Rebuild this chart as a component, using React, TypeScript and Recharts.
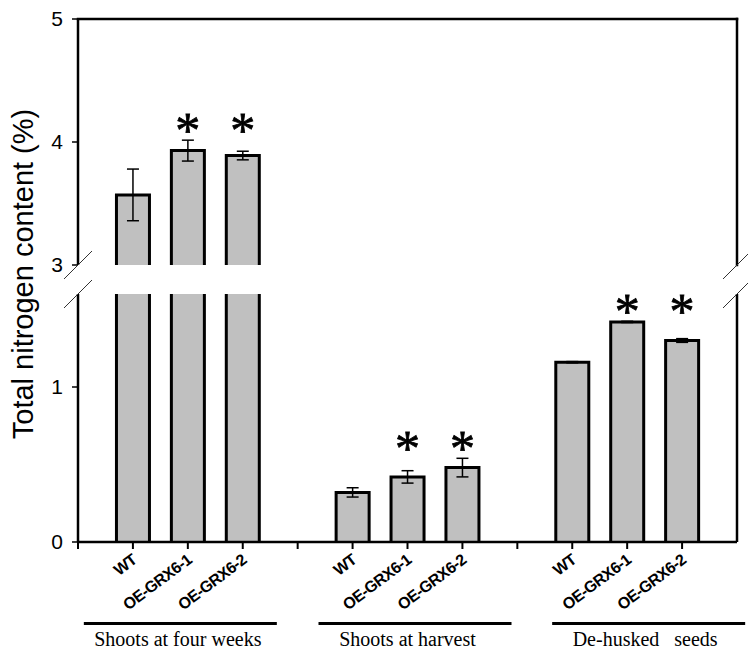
import React from "react";
import { ComposedChart, Bar, ErrorBar, Scatter, XAxis, YAxis, ReferenceLine } from "recharts";

const genotypes = ["WT", "OE-GRX6-1", "OE-GRX6-2"];
const tissues = ["Shoots at four weeks", "Shoots at harvest", "De-husked   seeds"];

// total N (%) per tissue, one array per genotype
const wtMean = [3.57, 0.32, 1.16];
const oe1Mean = [3.93, 0.42, 1.42];
const oe2Mean = [3.89, 0.48, 1.3];
const wtErr = [0.21, 0.03, 0.004];
const oe1Err = [0.085, 0.04, 0.004];
const oe2Err = [0.035, 0.06, 0.012];
const starred = [false, true, true];

const upperTicks = [3, 4, 5];
const lowerTicks = [0, 1];
const slotTicks = [0, 1, 2, 3, 4, 5, 6, 7, 8, 9, 10, 11];

const UPPER: [number, number] = [3, 5];
const LOWER: [number, number] = [0, 1.6];

const means = [wtMean, oe1Mean, oe2Mean];
const errs = [wtErr, oe1Err, oe2Err];

const rows = tissues.flatMap((_, g) =>
  genotypes.map((name, i) => ({ x: g * 4 + i + 1, name, mean: means[i][g], err: errs[i][g] }))
);
const stars = tissues.flatMap((_, g) => {
  const top = Math.max(...genotypes.map((_, i) => means[i][g] + errs[i][g]));
  return genotypes.map((_, i) => ({ x: g * 4 + i + 1, y: top, on: starred[i] })).filter((s) => s.on);
});

const SANS = "'Liberation Sans', Arial, sans-serif";
const SERIF = "'Liberation Serif', 'Times New Roman', serif";
const W = 748;
const H = 645;
const PLOT_LEFT = 70;
const PLOT_RIGHT = 729;
const BREAK_TOP = 257;
const BREAK_BOTTOM = 286;
const HEADROOM = 30;
const FOOTROOM = 20;

function OpenBar(props: any) {
  const { x, y, width, height } = props;
  if (height == null || width == null) return null;
  return (
    <g>
      <rect x={x} y={y} width={width} height={height} fill="#c0c0c0" />
      <path d={`M${x},${y + height} V${y} H${x + width} V${y + height}`} fill="none" stroke="#000" strokeWidth={3} />
    </g>
  );
}

function Star(props: any) {
  const { cx, cy } = props;
  return (
    <text x={cx} y={cy + 7} textAnchor="middle" fontSize={50} fontFamily={SERIF} fill="#000" stroke="#000" strokeWidth={0.8}>*</text>
  );
}

const lineDx = [-7.5, 7.5, 21.5];
const textDx = [-10, 0, 18];

function GenotypeTick(props: any) {
  const { x, y, payload } = props;
  const v = payload.value as number;
  const slot = v % 4;
  if (slot === 0) return null;
  const g = Math.floor(v / 4);
  const ax = x + 5;
  const ay = y + 11;
  return (
    <g>
      <text x={ax} y={ay} transform={`rotate(-37, ${ax}, ${ay})`} textAnchor="end" fontSize={16} fontWeight="bold" fontFamily={SANS} fill="#000" letterSpacing={-0.6}>
        {genotypes[slot - 1]}
      </text>
      {slot === 2 && (
        <g>
          <line x1={x + lineDx[g] - 96.5} x2={x + lineDx[g] + 96.5} y1={y + 72.5} y2={y + 72.5} stroke="#000" strokeWidth={3} />
          <text x={x + textDx[g]} y={y + 95} textAnchor="middle" fontSize={20} fontFamily={SERIF} fill="#000" style={{ whiteSpace: "pre" }}>
            {tissues[g]}
          </text>
        </g>
      )}
    </g>
  );
}

const yTick = { fill: "#000", fontSize: 21, fontFamily: SANS };
const axisLine = { stroke: "#000", strokeWidth: 2.5 };

export default function App() {
  const upperRows = rows.filter((r) => r.mean >= UPPER[0]);
  return (
    <div style={{ position: "relative", width: W, height: H }}>
      <div style={{ position: "absolute", left: 0, top: 0 }}>
        <ComposedChart width={W} height={BREAK_TOP + FOOTROOM} data={upperRows} margin={{ top: 11, right: W - PLOT_RIGHT, bottom: FOOTROOM, left: 0 }}>
          <XAxis dataKey="x" type="number" domain={[0, 12]} ticks={slotTicks} hide />
          <YAxis type="number" domain={UPPER} ticks={upperTicks} interval={0} width={PLOT_LEFT} allowDataOverflow
            tick={yTick} tickSize={6} tickMargin={9}
            tickLine={{ stroke: "#000", strokeWidth: 1.5 }} axisLine={axisLine} />
          <YAxis yAxisId="stars" type="number" domain={UPPER} hide />
          <ReferenceLine y={5} stroke="#000" strokeWidth={2.5} strokeLinecap="square" />
          <ReferenceLine x={12} stroke="#000" strokeWidth={2.5} strokeLinecap="square" />
          <Bar dataKey="mean" barSize={33} shape={OpenBar} isAnimationActive={false}>
            <ErrorBar dataKey="err" width={6} stroke="#000" strokeWidth={1.5} />
          </Bar>
          <Scatter yAxisId="stars" data={stars.filter((s) => s.y >= UPPER[0])} dataKey="y" shape={Star} isAnimationActive={false} />
        </ComposedChart>
      </div>
      <div style={{ position: "absolute", left: 0, top: BREAK_BOTTOM - HEADROOM }}>
        <ComposedChart width={W} height={H - BREAK_BOTTOM + HEADROOM} data={rows} margin={{ top: HEADROOM, right: W - PLOT_RIGHT, bottom: 0, left: 0 }}>
          <XAxis dataKey="x" type="number" domain={[0, 12]} ticks={slotTicks} interval={0} height={111}
            tick={<GenotypeTick />} tickSize={7}
            tickLine={{ stroke: "#000", strokeWidth: 2 }} axisLine={axisLine} />
          <YAxis type="number" domain={LOWER} ticks={lowerTicks} interval={0} width={PLOT_LEFT} allowDataOverflow
            tick={yTick} tickSize={6} tickMargin={9}
            tickLine={{ stroke: "#000", strokeWidth: 1.5 }} axisLine={axisLine} />
          <YAxis yAxisId="stars" type="number" domain={LOWER} hide />
          <ReferenceLine x={12} stroke="#000" strokeWidth={2.5} />
          <Bar dataKey="mean" barSize={33} shape={OpenBar} isAnimationActive={false}>
            <ErrorBar dataKey={(d: any) => (d.mean <= LOWER[1] ? d.err : null)} width={6} stroke="#000" strokeWidth={1.5} />
          </Bar>
          <Scatter yAxisId="stars" data={stars.filter((s) => s.y <= LOWER[1])} dataKey="y" shape={Star} isAnimationActive={false} />
        </ComposedChart>
      </div>
      <svg width={W} height={H} style={{ position: "absolute", left: 0, top: 0, pointerEvents: "none" }}>
        <text transform="translate(25,266) rotate(-90)" textAnchor="middle" fontSize={29} fontFamily={SANS} fill="#000">
          Total nitrogen content (%)
        </text>
        {[PLOT_LEFT, PLOT_RIGHT].map((px) =>
          [BREAK_TOP, BREAK_BOTTOM].map((py) => (
            <line key={`${px}-${py}`} x1={px - 14} y1={py + 14} x2={px + 14} y2={py - 14} stroke="#333" strokeWidth={1} />
          ))
        )}
      </svg>
    </div>
  );
}
